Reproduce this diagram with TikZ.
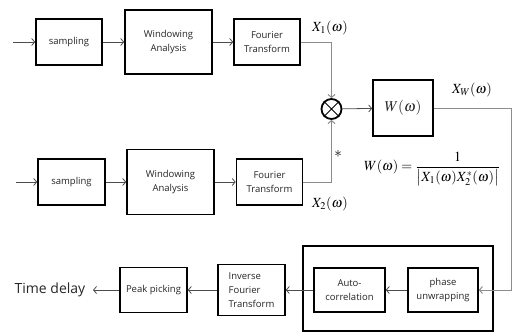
\documentclass[tikz,border=0pt]{standalone}
\usepackage{mathptmx}
\usepackage[no-math]{fontspec}
\setsansfont{Open Sans}
\usetikzlibrary{arrows.meta}

\begin{document}
\begin{tikzpicture}[x=1pt,y=-1pt,
  blk/.style={draw=black,line width=1.6pt,fill=white,text=black!85,
    font=\sffamily\fontsize{9.5}{14}\selectfont,align=center,inner sep=0pt},
  link/.style={draw=black!70,line width=0.8pt,-{Straight Barb[length=3pt,width=7pt]}},
  feed/.style={draw=black!45,line width=1pt,-{Straight Barb[length=3pt,width=7pt]}},
  lbl/.style={font=\fontsize{14}{16}\selectfont,inner sep=0pt}]
\useasboundingbox (0,0) rectangle (513,333);

% upper signal chain
\coordinate (in1) at (13,42);
\node[blk,minimum width=66pt,minimum height=46pt] (s1) at (69,42) {sampling};
\node[blk,minimum width=87pt,minimum height=64pt] (w1) at (168.5,42) {Windowing\\Analysis};
\node[blk,minimum width=66pt,minimum height=46pt] (f1) at (267,42) {Fourier\\Transform};

% lower signal chain
\coordinate (in2) at (16,182);
\node[blk,minimum width=67pt,minimum height=46pt] (s2) at (71.5,182) {sampling};
\node[blk,minimum width=87pt,minimum height=65pt] (w2) at (170.5,182) {Windowing\\Analysis};
\node[blk,minimum width=66pt,minimum height=46pt] (f2) at (269.5,182) {Fourier\\Transform};

% cross spectrum and weighting
\node[circle,draw=black,line width=1.8pt,minimum size=20pt,inner sep=0pt] (mul) at (331.5,109) {};
\draw[line width=1pt] (mul.north west) -- (mul.south east) (mul.north east) -- (mul.south west);
\node[blk,minimum width=60pt,minimum height=56pt,font=\fontsize{15}{16}\selectfont] (wgt) at (403,108) {$W(\omega)$};

% post-processing chain
\node[draw=black,line width=1.6pt,minimum width=190pt,minimum height=85pt] (frame) at (398,288.5) {};
\node[blk,minimum width=70pt,minimum height=44pt] (pu) at (443,290) {phase\\unwrapping};
\node[blk,minimum width=71pt,minimum height=44pt] (ac) at (349.5,290) {Auto-\\correlation};
\node[blk,minimum width=67pt,minimum height=51pt,align=left] (ift) at (251.5,290) {Inverse\\Fourier\\Transform};
\node[blk,minimum width=67pt,minimum height=45pt] (pp) at (153.5,290) {Peak picking};
\node[font=\sffamily\fontsize{14}{16}\selectfont,text=black!85,inner sep=0pt] (td) at (50,290) {Time delay};
\coordinate (tdin) at (93,290);

% connectors
\draw[link] (in1) -- (s1);
\draw[link] (s1) -- (w1);
\draw[link] (w1) -- (f1);
\draw[link] (in2) -- (s2);
\draw[link] (s2) -- (w2);
\draw[link] (w2) -- (f2);
\draw[feed] (f1.east) -| (mul.north);
\draw[feed] (f2.east) -| (mul.south);
\draw[link] (mul) -- (wgt);
\coordinate (turn) at (511,108);
\draw[feed] (wgt.east) -- (turn) |- (pu.east);
\draw[link] (pu) -- (ac);
\draw[link] (ac) -- (ift);
\draw[link] (ift) -- (pp);
\draw[link] (pp) -- (tdin);

% signal labels
\node[lbl] (x1) at (330,28) {$X_1(\omega)$};
\node[lbl] (x2) at (330,204) {$X_2(\omega)$};
\node[lbl] (xw) at (472,90) {$X_W(\omega)$};
\node[font=\fontsize{15}{16}\selectfont,inner sep=0pt] (conj) at (338,154) {$*$};
\node[lbl] (eq) at (432,169) {$\displaystyle W(\omega)=\frac{1}{\left|X_1(\omega)X_2^{*}(\omega)\right|}$};
\end{tikzpicture}
\end{document}
